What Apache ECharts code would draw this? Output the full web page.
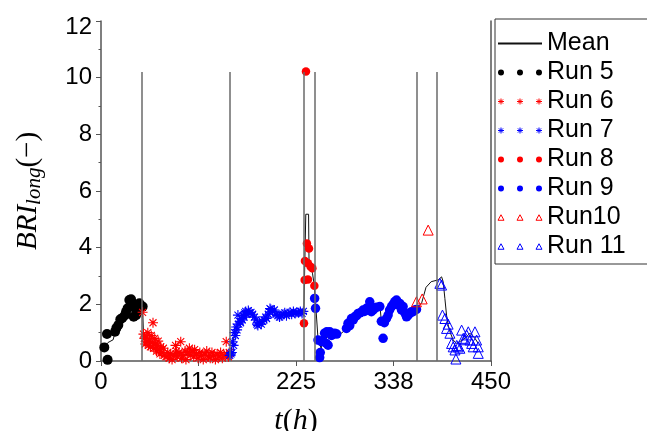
<!DOCTYPE html>
<html>
<head>
<meta charset="utf-8">
<script src="https://cdn.jsdelivr.net/npm/echarts@6/dist/echarts.min.js"></script>
<style>
html,body{margin:0;padding:0;background:#fff;}
#chart{width:647px;height:431px;}
</style>
</head>
<body>
<div id="chart"></div>
<script>
// ---- data (t in hours, BRI_long) ----
const xTickLabels = ['0', '113', '225', '338', '450'];
const yTickLabels = ['0', '2', '4', '6', '8', '10', '12'];
const separatorT = [47.5, 149, 233.9, 246.3, 364.8, 387];
const separatorTop = 10.2;

const run5 = [[3.8,0.48],[7.6,0.04],[6.9,0.95],[16.2,1.03],[17.7,1.16],[20,1.27],[22.3,1.47],[24.6,1.52],[27.7,1.62],[28.9,1.74],[30.7,1.86],[32.7,2.15],[34.7,2.18],[35.6,2.05],[37.7,1.56],[39.3,1.86],[40.5,1.62],[42.3,1.74],[44.3,2.04],[48.1,1.92]];

const run6 = [[48,1.72],[49,0.95],[50,0.8],[51,0.6],[52,0.85],[53,0.7],[54,1.0],[55,0.55],[56,0.75],[57,0.5],[58,0.9],[59,0.65],[60,1.35],[61,0.45],[62,0.8],[63,0.6],[64,0.35],[65,0.55],[66,0.7],[67,0.4],[68,0.25],[69,0.5],[70,0.3],[72,0.45],[73,0.2],[75,0.15],[77,0.3],[79,0.1],[80,0.25],[82,0.05],[84,0.2],[86,0.55],[87,0.35],[88,0.15],[90,0.3],[92,0.68],[93,0.1],[95,0.2],[97,0.35],[98,0.05],[100,0.3],[102,0.45],[103,0.2],[105,0.35],[107,0.15],[108,0.4],[110,0.25],[112,0.1],[114,0.3],[116,0.2],[118,0.05],[120,0.25],[122,0.35],[124,0.15],[126,0.1],[128,0.3],[130,0.2],[132,0.05],[134,0.25],[136,0.15],[138,0.3],[140,0.1],[142,0.2],[144.5,0.68],[145,0.25],[146.3,0.21],[147,0.15],[148,0.3]];

const run7 = [[148.5,0.2],[150,0.25],[151,0.3],[152,0.68],[153,0.55],[154,1.0],[155,0.9],[156,1.2],[157,1.1],[158,1.62],[159,1.3],[160,1.4],[161,1.35],[162,1.5],[163,1.45],[164,1.6],[165,1.55],[166,1.7],[167,1.75],[168,1.65],[170,1.78],[171,1.7],[173,1.72],[175,1.65],[177,1.55],[179,1.45],[180,1.3],[181,1.25],[183,1.35],[185,1.3],[186,1.4],[188,1.45],[190,1.55],[191,1.5],[193,1.65],[195,1.85],[196,1.82],[198,1.75],[200,1.8],[202,1.65],[204,1.6],[206,1.55],[208,1.6],[210,1.65],[212,1.7],[214,1.6],[216,1.68],[218,1.72],[220,1.65],[222,1.75],[224,1.68],[226,1.72],[228,1.7],[230,1.75],[232,1.68],[233.5,1.75]];

const run8 = [[234.2,1.33],[235,2.86],[235.3,3.53],[236.5,10.22],[237.6,4.15],[238.8,3.45],[238.8,2.88],[240,3.97],[241.9,3.33],[243.9,3.27],[246.2,2.66]];

const run9 = [[246.5,2.21],[247.5,1.86],[250.4,0.74],[252.3,0.12],[253,0.3],[254.3,0.68],[256,0.72],[258,0.98],[260,0.62],[260.5,1.03],[262,0.56],[264,1.03],[266,0.9],[268,0.95],[269.7,0.98],[272,0.95],[283.2,1.15],[285,1.33],[287,1.25],[289,1.5],[291,1.45],[292.8,1.56],[295,1.6],[296.6,1.68],[299,1.7],[302.4,1.8],[304,1.75],[306.3,1.86],[308,1.8],[310.1,2.09],[312,1.74],[314,1.8],[315.9,1.86],[318,1.9],[321.7,1.92],[323.5,1.4],[325.5,0.8],[327,1.35],[329.4,1.5],[331.3,1.62],[333,1.8],[335.2,1.92],[337,2.0],[339,2.1],[341,2.15],[342.8,1.98],[344.8,2.03],[346.7,1.8],[348.6,1.92],[350.5,1.7],[352.5,1.56],[354,1.6],[356.3,1.68],[358.3,1.74],[360.1,1.74],[362.1,1.8],[364,1.82]];

const run10 = [[364,2.09],[370.6,2.19],[377.5,4.62]];

const run11 = [[391,2.74],[393,2.68],[394,1.62],[396.8,1.5],[398.7,1.15],[400.5,1.3],[402.6,0.98],[404.5,0.62],[406.4,0.5],[408.4,0.39],[409.5,0.07],[410.5,0.55],[412.2,0.5],[414.1,0.45],[416.1,1.09],[418,0.8],[420,0.75],[421.9,0.92],[423.8,1.03],[425.7,0.74],[427.7,0.62],[429.5,0.5],[431.5,1.03],[433.4,0.74],[435.3,0.5],[435.3,0.27]];

const meanLine = [[3.8,0.48],[8,0.65],[14,0.75],[17,1.1],[20,1.3],[23,1.45],[27,1.6],[30,1.8],[33,2.05],[36,1.95],[38,1.75],[41,1.7],[44,1.95],[47,1.85],[48.2,1.72],[49,0.95],[52,0.85],[56,0.7],[60,0.6],[64,0.5],[68,0.4],[72,0.3],[80,0.25],[90,0.25],[100,0.22],[110,0.2],[120,0.2],[130,0.18],[140,0.2],[146,0.25],[149,0.25],[151,0.5],[153,0.8],[156,1.1],[159,1.4],[163,1.5],[167,1.65],[172,1.7],[177,1.55],[182,1.35],[187,1.45],[192,1.6],[196,1.8],[201,1.7],[207,1.6],[213,1.65],[220,1.7],[228,1.7],[234,1.72],[236.3,5.18],[239.5,5.18],[240,3.6],[242,3.3],[244,3.1],[246.2,2.66],[247,2.2],[248,1.86],[250.5,0.74],[254,0.45],[256,0.45],[257,0.8],[262,0.85],[268,0.9],[275,0.92],[282,1.1],[288,1.4],[294,1.55],[300,1.7],[306,1.8],[312,1.85],[318,1.9],[322,1.9],[323.5,1.4],[325.5,1.3],[329,1.5],[334,1.75],[340,2.0],[344,1.95],[348,1.8],[352.5,1.6],[356,1.7],[362,1.8],[366,1.92],[370,2.05],[372,2.1],[375,2.6],[381,2.8],[389,2.86],[393,2.97],[394.8,2.8],[396.8,2.2],[398.7,1.62],[400.6,1.27],[403,1.0],[406.4,0.74],[410.3,0.62],[415,0.7],[419.9,0.8],[425.7,0.98],[431.5,0.8],[435.3,0.62]];

// ---- styling ----
const SANS = 'Liberation Sans, Arial, sans-serif';
const SERIF = 'Liberation Serif, Times New Roman, serif';
const RED = '#ff0000', BLUE = '#0000ff', BLACK = '#000000';
const asteriskSym = 'path://M0,-4L0,4M-4,0L4,0M-2.8,-2.8L2.8,2.8M-2.8,2.8L2.8,-2.8';

const centers = [3, 22, 41];
const dotsIcon = 'path://' + centers.map(c => `M${c-3},3a3,3 0 1,0 6,0a3,3 0 1,0 -6,0Z`).join('');
const astIcon = 'path://' + centers.map(c => `M${c},0L${c},6M${c-3},3L${c+3},3M${c-2.1},0.9L${c+2.1},5.1M${c-2.1},5.1L${c+2.1},0.9`).join('');
const triIcon = 'path://' + centers.map(c => `M${c-3},6L${c},0.5L${c+3},6Z`).join('');

function scatter(name, data, symbol, size, fill, stroke, bw) {
  return {
    name, type: 'scatter', data, symbol, symbolSize: size, z: 3,
    itemStyle: { color: fill, borderColor: stroke, borderWidth: bw, opacity: 1 }
  };
}

const chart = echarts.init(document.getElementById('chart'), null, { renderer: 'canvas' });
chart.setOption({
  animation: false,
  backgroundColor: '#ffffff',
  grid: { left: 101, right: 156, top: 21, bottom: 70, containLabel: false, outerBoundsMode: 'none' },
  xAxis: {
    type: 'value', min: 0, max: 450, interval: 112.5,
    axisLine: { show: true, onZero: false, lineStyle: { color: '#555', width: 1.5 } },
    axisTick: { show: true, inside: false, length: 5, lineStyle: { color: '#555', width: 1 } },
    splitLine: { show: false },
    axisLabel: { color: '#000', fontFamily: SANS, fontSize: 24, margin: 9,
      formatter: (v) => xTickLabels[Math.round(v / 112.5)] },
    name: '{i|t}{p|(}{i|h}{p|)}', nameLocation: 'middle', nameGap: 45,
    nameTextStyle: { rich: {
      i: { fontFamily: SERIF, fontStyle: 'italic', fontSize: 30, color: '#000' },
      p: { fontFamily: SERIF, fontSize: 30, color: '#000' } } }
  },
  yAxis: [{
    type: 'value', min: 0, max: 12, interval: 2,
    axisLine: { show: true, onZero: false, lineStyle: { color: '#555', width: 1.5 } },
    axisTick: { show: true, inside: false, length: 5, lineStyle: { color: '#555', width: 1 } },
    minorTick: { show: true, splitNumber: 2, length: 2.5, lineStyle: { color: '#555', width: 1 } },
    splitLine: { show: false },
    axisLabel: { color: '#000', fontFamily: SANS, fontSize: 24, margin: 9,
      formatter: (v) => { const s = yTickLabels[Math.round(v / 2)]; return v === 12 ? '{t|' + s + '}' : s; },
      rich: { t: { fontFamily: SANS, fontSize: 24, color: '#000', padding: [12, 0, 0, 0] } } },
    name: '{a|BRI}{b|long}{c|(−)}', nameLocation: 'middle', nameGap: 56, nameRotate: 90,
    nameTextStyle: { rich: {
      a: { fontFamily: SERIF, fontStyle: 'italic', fontSize: 29, color: '#000' },
      b: { fontFamily: SERIF, fontStyle: 'italic', fontSize: 21, color: '#000', padding: [12, 0, 0, 0] },
      c: { fontFamily: SERIF, fontSize: 29, color: '#000' } } }
  }, {
    type: 'value', min: 0, max: 12, interval: 2, position: 'right',
    axisLine: { show: true, onZero: false, lineStyle: { color: '#555', width: 1.5 } },
    axisTick: { show: false }, axisLabel: { show: false }, splitLine: { show: false }
  }],
  legend: {
    orient: 'vertical', left: 495, top: 19,
    padding: [10, 60, 3, 2],
    borderColor: '#333', borderWidth: 1,
    itemWidth: 44, itemHeight: 6, itemGap: 0,
    textStyle: { color: '#000', fontFamily: SANS, fontSize: 25, lineHeight: 29 },
    data: [
      { name: 'Mean', itemStyle: { color: 'transparent', borderWidth: 0 } },
      { name: 'Run 5', icon: dotsIcon, itemStyle: { color: BLACK, borderWidth: 0 } },
      { name: 'Run 6', icon: astIcon, itemStyle: { color: 'transparent', borderColor: RED, borderWidth: 1 } },
      { name: 'Run 7', icon: astIcon, itemStyle: { color: 'transparent', borderColor: BLUE, borderWidth: 1 } },
      { name: 'Run 8', icon: dotsIcon, itemStyle: { color: RED, borderWidth: 0 } },
      { name: 'Run 9', icon: dotsIcon, itemStyle: { color: BLUE, borderWidth: 0 } },
      { name: 'Run10', icon: triIcon, itemStyle: { color: 'transparent', borderColor: RED, borderWidth: 1 } },
      { name: 'Run 11', icon: triIcon, itemStyle: { color: 'transparent', borderColor: BLUE, borderWidth: 1 } }
    ]
  },
  series: [
    {
      name: 'separators', type: 'line', data: [], silent: true, z: 1,
      markLine: {
        silent: true, symbol: 'none', label: { show: false }, animation: false,
        lineStyle: { color: '#6a6a6a', width: 1.5, type: 'solid' },
        data: separatorT.map(t => [{ coord: [t, 0] }, { coord: [t, separatorTop] }])
      }
    },
    {
      name: 'Mean', type: 'line', data: meanLine, symbol: 'none', showSymbol: false, z: 2,
      lineStyle: { color: '#111', width: 1 }, itemStyle: { color: '#111' }
    },
    scatter('Run 5', run5, 'circle', 10, BLACK, BLACK, 0),
    scatter('Run 6', run6, asteriskSym, 10, 'transparent', RED, 1.1),
    scatter('Run 7', run7, asteriskSym, 10, 'transparent', BLUE, 1.1),
    scatter('Run 8', run8, 'circle', 8.5, RED, RED, 0),
    scatter('Run 9', run9, 'circle', 9.5, BLUE, BLUE, 0),
    scatter('Run10', run10, 'triangle', 10, 'transparent', RED, 1),
    scatter('Run 11', run11, 'triangle', 10, 'transparent', BLUE, 1)
  ]
});
</script>
</body>
</html>
